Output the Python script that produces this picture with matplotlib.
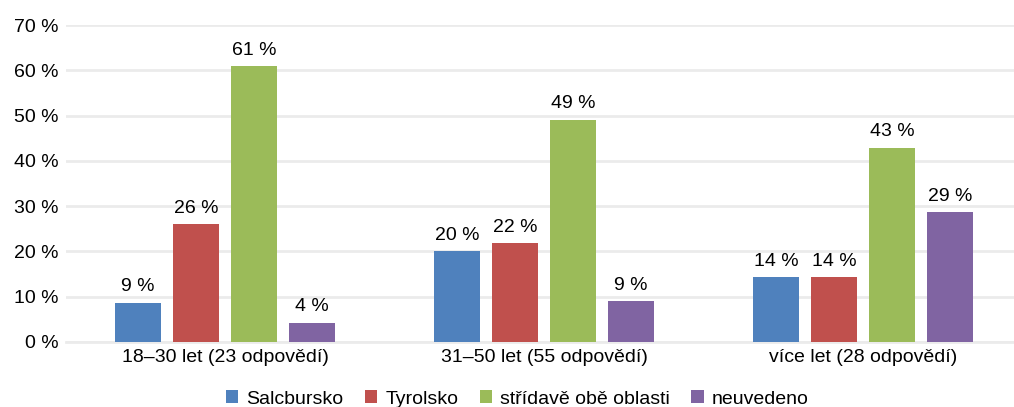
import matplotlib.pyplot as plt
import numpy as np

plt.rcParams['font.family'] = ['Liberation Sans', 'DejaVu Sans']

categories = ['18–30 let (23 odpovědí)', '31–50 let (55 odpovědí)', 'více let (28 odpovědí)']
series_names = ['Salcbursko', 'Tyrolsko', 'střídavě obě oblasti', 'neuvedeno']
salcbursko = [8.7, 20.0, 14.3]
tyrolsko = [26.1, 21.8, 14.3]
stridave = [60.9, 49.1, 42.9]
neuvedeno = [4.3, 9.1, 28.6]
colors = ['#4F81BD', '#C0504D', '#9BBB59', '#8064A2']
yticks = [0, 10, 20, 30, 40, 50, 60, 70]

fig = plt.figure(figsize=(10.14, 4.07), dpi=100)
W, H = 1014, 407
ax = fig.add_axes([65.5 / W, 1 - 342 / H, 957 / W, (342 - 25) / H])

x = np.arange(len(categories))
width = 46 / 319
step = 58 / 319
data = [salcbursko, tyrolsko, stridave, neuvedeno]
for i, (vals, name, c) in enumerate(zip(data, series_names, colors)):
    pos = x + (i - 1.5) * step
    bars = ax.bar(pos, vals, width, color=c, label=name, zorder=3)
    for b, v in zip(bars, vals):
        ax.text(b.get_x() + b.get_width() / 2, v + 1.6, '%d %%' % round(v),
                ha='center', va='bottom', fontsize=14, color='#000000')

ax.set_xlim(-0.5, 2.5)
ax.set_ylim(0, 70)
ax.set_yticks(yticks)
ax.set_yticklabels(['%d %%' % t for t in yticks], fontsize=14)
ax.set_xticks(x)
ax.set_xticklabels(categories, fontsize=14)
ax.tick_params(axis='both', length=0, pad=5)
ax.grid(axis='y', color='#EBEBEB', linewidth=2, zorder=0)
for s in ['top', 'right', 'left']:
    ax.spines[s].set_visible(False)
ax.spines['bottom'].set_color('#EBEBEB')
ax.spines['bottom'].set_linewidth(2)

fig.legend(loc='lower center', bbox_to_anchor=(0.51, -0.045), ncol=4, frameon=False,
           fontsize=14, handlelength=0.65, handleheight=0.65, handletextpad=0.4,
           columnspacing=1.1)

fig.savefig('out.png', dpi=100)
